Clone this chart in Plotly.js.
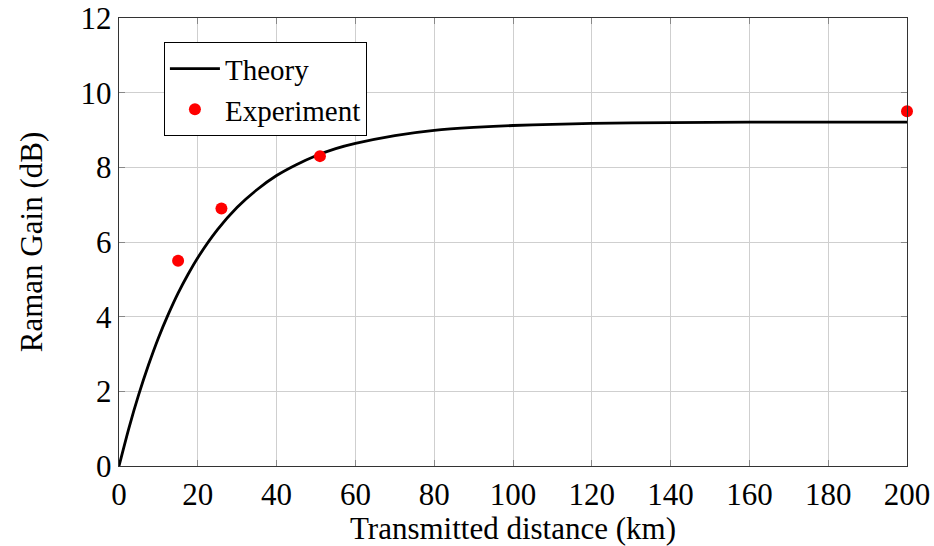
<!DOCTYPE html>
<html>
<head>
<meta charset="utf-8">
<script src="https://cdn.plot.ly/plotly-3.0.1.min.js"></script>
<style>
  html, body { margin: 0; padding: 0; background: #fff; }
  #chart { width: 934px; height: 546px; }
</style>
</head>
<body>
<div id="chart"></div>
<script>
// Theoretical Raman gain versus fibre length (km, dB)
var theoryDistance = [0, 2.5, 5, 7.5, 10, 12.5, 15, 17.5, 20, 25, 30, 35, 40, 45, 50, 55, 60, 70, 80, 90, 100, 110, 120, 140, 160, 180, 200];
var theoryGain     = [0, 1.01, 1.91, 2.71, 3.43, 4.06, 4.63, 5.13, 5.58, 6.33, 6.93, 7.40, 7.78, 8.07, 8.31, 8.50, 8.64, 8.85, 8.99, 9.07, 9.12, 9.15, 9.18, 9.20, 9.21, 9.21, 9.21];

// Measured gain
var expDistance = [15, 26, 51, 200];
var expGain     = [5.5, 6.9, 8.3, 9.5];

var xTicks = [0, 20, 40, 60, 80, 100, 120, 140, 160, 180, 200];
var yTicks = [0, 2, 4, 6, 8, 10, 12];

var serif = "Liberation Serif, Times New Roman, serif";
var fs = 31;

var traces = [
  {
    x: theoryDistance, y: theoryGain,
    type: "scatter", mode: "lines", name: "Theory",
    line: { color: "#000", width: 2.8, shape: "spline", smoothing: 0.6 },
    cliponaxis: false
  },
  {
    x: expDistance, y: expGain,
    type: "scatter", mode: "markers", name: "Experiment",
    marker: { color: "#ff0000", size: 12 },
    cliponaxis: false
  }
];

var axisCommon = {
  showline: true, linecolor: "#333", linewidth: 1.3, mirror: "ticks",
  ticks: "inside", ticklen: 6, tickcolor: "#888", tickwidth: 1,
  showgrid: true, gridcolor: "#cfcfcf", gridwidth: 1,
  zeroline: false,
  tickfont: { family: serif, size: fs, color: "#000" }
};

var layout = {
  width: 934, height: 546,
  margin: { l: 119, r: 27, t: 18, b: 80 },
  paper_bgcolor: "#fff", plot_bgcolor: "#fff",
  font: { family: serif, color: "#000" },
  showlegend: true,
  legend: {
    x: 0.057, y: 0.946, xanchor: "left", yanchor: "top",
    bgcolor: "#fff", bordercolor: "#000", borderwidth: 1,
    font: { family: serif, size: 29, color: "#000" },
    itemwidth: 50, tracegroupgap: 0
  },
  xaxis: Object.assign({}, axisCommon, {
    range: [0, 200], tickvals: xTicks, ticktext: xTicks.map(String),
    title: { text: "Transmitted distance (km)", font: { family: serif, size: fs, color: "#000" }, standoff: 6 }
  }),
  yaxis: Object.assign({}, axisCommon, {
    range: [0, 12], tickvals: yTicks, ticktext: yTicks.map(String),
    title: { text: "Raman Gain (dB)", font: { family: serif, size: fs, color: "#000" }, standoff: 28 }
  })
};

Plotly.newPlot("chart", traces, layout, { displayModeBar: false, staticPlot: true });
</script>
</body>
</html>
